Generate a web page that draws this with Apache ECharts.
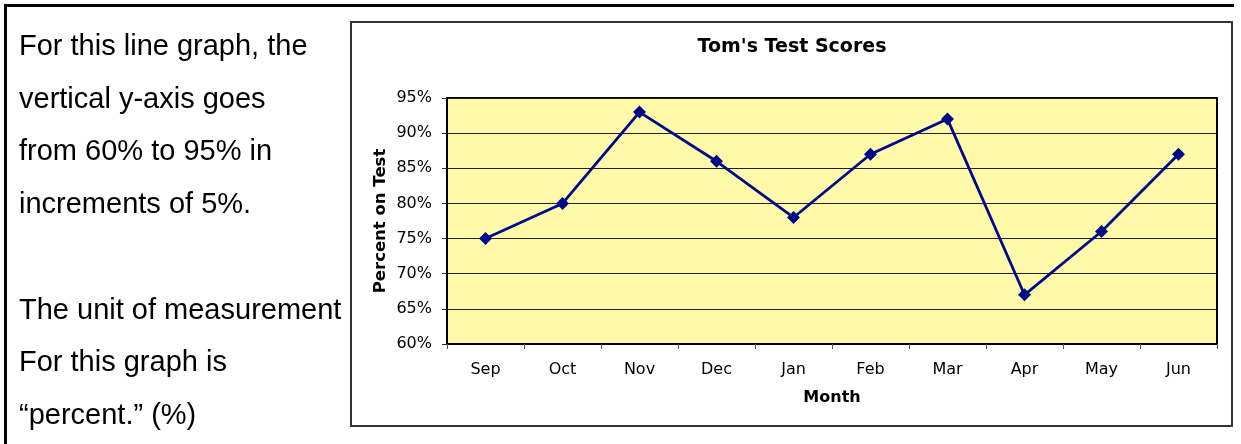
<!DOCTYPE html>
<html>
<head>
<meta charset="utf-8">
<script src="https://cdn.jsdelivr.net/npm/echarts@6/dist/echarts.min.js"></script>
<style>
  html, body { margin: 0; padding: 0; background: #fff; }
  #main { width: 1241px; height: 444px; }
</style>
</head>
<body>
<div id="main"></div>
<script>
// data
var months = ['Sep', 'Oct', 'Nov', 'Dec', 'Jan', 'Feb', 'Mar', 'Apr', 'May', 'Jun'];
var scores = [75, 80, 93, 86, 78, 87, 92, 67, 76, 87];
var yTicks = [60, 65, 70, 75, 80, 85, 90, 95];
var noteLines = [
  'For this line graph, the',
  'vertical y-axis goes',
  'from 60% to 95% in',
  'increments of 5%.',
  '',
  'The unit of measurement',
  'For this graph is',
  '\u201cpercent.\u201d (%)'
];

var chart = echarts.init(document.getElementById('main'));

// texte a gauche + cadres
var graphics = [
  { type: 'line', shape: { x1: 4, y1: 5.5, x2: 1234, y2: 5.5 }, style: { stroke: '#000', lineWidth: 3 } },
  { type: 'line', shape: { x1: 5.5, y1: 4, x2: 5.5, y2: 444 }, style: { stroke: '#000', lineWidth: 3 } },
  { type: 'rect', shape: { x: 351, y: 22, width: 881, height: 404 }, style: { fill: 'none', stroke: '#333', lineWidth: 2 } }
];
for (var i = 0; i < noteLines.length; i++) {
  if (!noteLines[i]) continue;
  graphics.push({
    type: 'text',
    style: {
      text: noteLines[i],
      x: 19,
      y: 47 + i * 52.7,
      font: '29px "Liberation Sans", Arial, sans-serif',
      fill: '#000',
      textVerticalAlign: 'middle'
    }
  });
}

var option = {
  animation: false,
  backgroundColor: '#fff',
  title: {
    text: "Tom's Test Scores",
    left: 787,
    textAlign: 'center',
    top: 33,
    textStyle: { fontFamily: 'DejaVu Sans', fontSize: 19, fontWeight: 'bold', color: '#000' }
  },
  grid: {
    left: 447, top: 98, width: 770, height: 246,
    show: true,
    backgroundColor: '#FFFAAA',
    borderColor: '#000',
    borderWidth: 2
  },
  xAxis: {
    type: 'category',
    data: months,
    boundaryGap: true,
    name: 'Month',
    nameLocation: 'middle',
    nameGap: 46,
    nameTextStyle: { fontFamily: 'DejaVu Sans', fontSize: 16, fontWeight: 'bold', color: '#000' },
    axisLine: { lineStyle: { color: '#000', width: 2 } },
    axisTick: { show: true, interval: 0, length: 5, lineStyle: { color: '#555' } },
    axisLabel: { margin: 18, fontFamily: 'DejaVu Sans', fontSize: 16, color: '#000' }
  },
  yAxis: {
    type: 'value',
    min: yTicks[0],
    max: yTicks[yTicks.length - 1],
    interval: 5,
    name: 'Percent on Test',
    nameLocation: 'middle',
    nameGap: 58,
    nameMoveOverlap: false,
    nameTextStyle: { fontFamily: 'DejaVu Sans', fontSize: 16.5, fontWeight: 'bold', color: '#000' },
    axisLine: { show: true, lineStyle: { color: '#000', width: 2 } },
    axisTick: { show: true, length: 5, lineStyle: { color: '#333' } },
    axisLabel: { margin: 15, fontFamily: 'DejaVu Sans', fontSize: 16, color: '#000', formatter: '{value}%' },
    splitLine: { show: true, lineStyle: { color: '#222', width: 1 } }
  },
  series: [{
    type: 'line',
    data: scores,
    symbol: 'diamond',
    symbolSize: 13,
    lineStyle: { color: '#000a88', width: 2.8 },
    itemStyle: { color: '#000a88' }
  }],
  graphic: graphics
};
chart.setOption(option);
</script>
</body>
</html>
